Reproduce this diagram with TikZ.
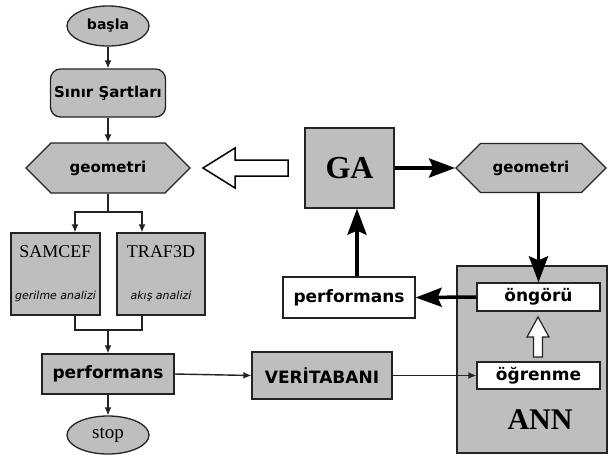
\documentclass[tikz,border=0pt]{standalone}
\usepackage{fontspec}
\setmainfont{Liberation Serif}
\newfontfamily\dv[ItalicFont={DejaVu Sans Oblique},BoldFont={DejaVu Sans Bold}]{DejaVu Sans}
\usetikzlibrary{shapes.geometric,shapes.symbols,arrows.meta}
\definecolor{boxgray}{RGB}{190,190,190}
\definecolor{edgec}{RGB}{35,35,35}
\newcommand\fsz[1]{\fontsize{#1}{#1}\selectfont}
\begin{document}
\begin{tikzpicture}[x=1pt,y=-1pt,
  box/.style={draw=edgec,line width=1.3pt,fill=boxgray,inner sep=0pt},
  wbox/.style={draw=edgec,line width=1.3pt,fill=white,inner sep=0pt},
  sansb/.style={font=\dv\bfseries\fsz{#1}},
  thinar/.style={draw=edgec,line width=1.4pt,-{Latex[length=8pt,width=7pt]}},
  thinln/.style={draw=edgec,line width=1.4pt},
  thickar/.style={draw=black,line width=3.5pt,-{Stealth[length=26pt,width=19pt,inset=4pt]}},
  hex/.style={box,shape=signal,signal to=west and east,signal pointer angle=90},
  hollow/.style={draw=black,line width=1.5pt,fill=white,line join=miter}]
\useasboundingbox (0,0) rectangle (608,456);

% left column
\node[box,ellipse,minimum width=82pt,minimum height=40pt,sansb=14] (basla) at (108,26) {başla};
\node[box,rectangle,rounded corners=10pt,minimum width=115pt,minimum height=48pt,sansb=15] (sinir) at (108,93) {Sınır Şartları};
\node[hex,minimum width=164pt,minimum height=50pt,sansb=15] (geoL) at (108,168) {geometri};
\node[box,rectangle,minimum width=89pt,minimum height=82pt] (samcef) at (55.5,274) {};
\node[box,rectangle,minimum width=88pt,minimum height=82pt] (traf) at (161,274) {};
\node[font=\fsz{18}] (samcefT) at (55.5,252) {SAMCEF};
\node[font=\dv\itshape\fsz{11}] (samcefI) at (55.5,296) {gerilme analizi};
\node[font=\fsz{18}] (trafT) at (161,252) {TRAF3D};
\node[font=\dv\itshape\fsz{11}] (trafI) at (161,296) {akış analizi};
\node[box,rectangle,minimum width=132pt,minimum height=40pt,sansb=17] (perfL) at (108,374) {performans};
\node[box,ellipse,minimum width=82pt,minimum height=38pt,font=\fsz{19}] (stop) at (108,435) {stop};

\coordinate (j1) at (108,212);
\coordinate (sa) at (75,212);
\coordinate (ta) at (142,212);
\coordinate (sb) at (75,330);
\coordinate (tb) at (142,330);
\coordinate (j2) at (108,330);

\draw[thinar] (basla) -- (sinir);
\draw[thinar] (sinir) -- (geoL.north);
\draw[thinln] (geoL.south) -- (j1);
\draw[thinar] (j1) -- (sa) -- (sa |- samcef.north);
\draw[thinar] (j1) -- (ta) -- (ta |- traf.north);
\draw[thinln] (sa |- samcef.south) -- (sb) -- (tb) -- (tb |- traf.south);
\draw[thinar] (j2) -- (perfL.north);
\draw[thinar] (perfL) -- (stop);

% right part
\node[box,rectangle,minimum width=89pt,minimum height=80pt,font=\bfseries\fsz{32}] (GA) at (349.5,168) {GA};
\node[hex,minimum width=150pt,minimum height=49pt,sansb=15] (geoR) at (531,168) {geometri};
\node[box,rectangle,minimum width=150pt,minimum height=187pt] (ann) at (532,359.5) {};
\node[font=\bfseries\fsz{30}] (annT) at (540,420) {ANN};
\node[wbox,rectangle,minimum width=123pt,minimum height=28pt,sansb=17] (ong) at (538.5,297) {öngörü};
\node[wbox,rectangle,minimum width=123pt,minimum height=27pt,sansb=17] (ogr) at (538.5,375.5) {öğrenme};
\node[wbox,rectangle,minimum width=132pt,minimum height=41pt,sansb=17] (perfW) at (349,297.5) {performans};
\node[box,rectangle,minimum width=140pt,minimum height=47pt,sansb=17] (veri) at (322,375.5) {VERİTABANI};

\coordinate (pa) at (357,0);

\draw[thickar] (GA.east) -- (geoR.west);
\draw[thickar] (ong.north |- geoR.south) -- (ong.north);
\draw[thickar] (ong.west) -- (perfW.east);
\draw[thickar] (pa |- perfW.north) -- (pa |- GA.south);
\draw[thinar] (perfL.east) -- (veri.west);
\draw[thinar] (veri.east) -- (ogr.west);

% hollow arrows
\draw[hollow] (203,168) -- (235,148) -- (235,160) -- (288,160) -- (288,176) -- (235,176) -- (235,188) -- cycle;
\draw[draw=edgec,line width=1.2pt,fill=white] (538,317) -- (549,337) -- (542.5,337) -- (542.5,357) -- (533.5,357) -- (533.5,337) -- (527,337) -- cycle;
\end{tikzpicture}
\end{document}
